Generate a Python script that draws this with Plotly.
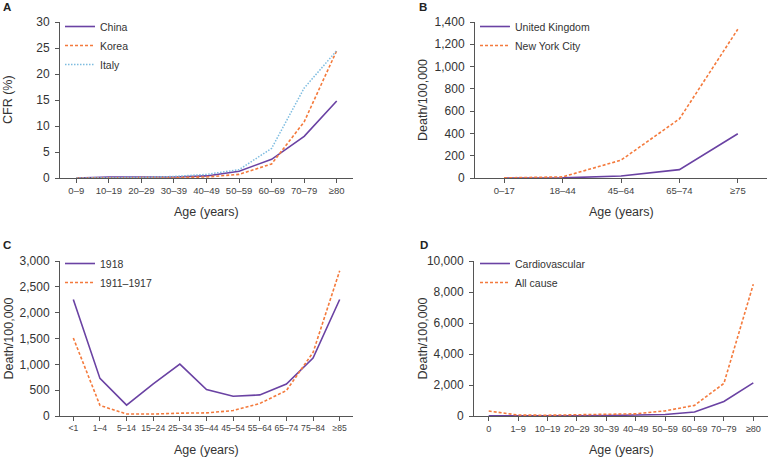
import plotly.graph_objects as go

# ---------------- data ----------------
ages_a = ["0–9", "10–19", "20–29", "30–39", "40–49", "50–59", "60–69", "70–79", "≥80"]
china = [0.0, 0.2, 0.2, 0.2, 0.4, 1.3, 3.6, 8.0, 14.8]
korea = [0.0, 0.0, 0.0, 0.1, 0.2, 0.7, 2.7, 10.8, 24.5]
italy = [0.0, 0.0, 0.1, 0.3, 0.7, 1.6, 5.7, 17.3, 24.5]

ages_b = ["0–17", "18–44", "45–64", "65–74", "≥75"]
uk = [0, 1, 18, 75, 397]
nyc = [1, 10, 160, 530, 1335]

ages_c = ["<1", "1–4", "5–14", "15–24", "25–34", "35–44", "45–54", "55–64", "65–74", "75–84", "≥85"]
y1918 = [2255, 728, 210, 620, 1005, 512, 383, 408, 620, 1120, 2255]
y1911 = [1510, 205, 38, 38, 55, 60, 105, 242, 493, 1230, 2810]

ages_d = ["0", "1–9", "10–19", "20–29", "30–39", "40–49", "50–59", "60–69", "70–79", "≥80"]
cardio = [20, 10, 10, 15, 30, 60, 100, 255, 935, 2140]
allcause = [320, 60, 50, 70, 90, 140, 330, 685, 2100, 8500]

PURPLE = "#6a42a3"
ORANGE = "#f47a3c"
BLUE = "#7dbce0"
FONT = "Liberation Sans, Arial, sans-serif"

W, H = 770, 457

fig = go.Figure()

def px_x(p):
    return p / W

def px_y(p):
    return 1 - p / H

# subplot geometry (pixels)
panels = {
    "A": dict(x0=60, x1=353, y0=22, y1=178),
    "B": dict(x0=475, x1=767, y0=22, y1=178),
    "C": dict(x0=60, x1=353, y0=261, y1=416),
    "D": dict(x0=474, x1=768, y0=261, y1=416),
}

def line(x, y, name, color, dash, xa, ya, legend, width=1.6):
    fig.add_trace(go.Scatter(
        x=x, y=y, name=name, mode="lines",
        line=dict(color=color, dash=dash, width=width),
        xaxis=xa, yaxis=ya, legend=legend, hoverinfo="skip"))

DASH = "3px,2px"
line(ages_a, china, "China", PURPLE, "solid", "x", "y", "legend")
line(ages_a, korea, "Korea", ORANGE, DASH, "x", "y", "legend")
line(ages_a, italy, "Italy", BLUE, "1.5px,1.5px", "x", "y", "legend", 1.5)
line(ages_b, uk, "United Kingdom", PURPLE, "solid", "x2", "y2", "legend2")
line(ages_b, nyc, "New York City", ORANGE, DASH, "x2", "y2", "legend2")
line(ages_c, y1918, "1918", PURPLE, "solid", "x3", "y3", "legend3")
line(ages_c, y1911, "1911–1917", ORANGE, DASH, "x3", "y3", "legend3")
line(ages_d, cardio, "Cardiovascular", PURPLE, "solid", "x4", "y4", "legend4")
line(ages_d, allcause, "All cause", ORANGE, DASH, "x4", "y4", "legend4")

axcommon = dict(showline=True, linecolor="#555", linewidth=1, ticks="outside",
                ticklen=4, tickcolor="#555", showgrid=False, zeroline=False,
                fixedrange=True, automargin=False)

ranges = {"A": (ages_a, [0, 30], 5, 9.5), "B": (ages_b, [0, 1400], 200, 9.5),
          "C": (ages_c, [0, 3000], 500, 8.6), "D": (ages_d, [0, 10000], 2000, 9.2)}
ytitles = {"A": "CFR (%)", "B": "Death/100,000", "C": "Death/100,000", "D": "Death/100,000"}

layout = {}
for i, (k, p) in enumerate(panels.items()):
    suf = "" if i == 0 else str(i + 1)
    cats, yr, dt, xfs = ranges[k]
    layout["xaxis" + suf] = dict(axcommon, domain=[px_x(p["x0"]), px_x(p["x1"])],
                                  anchor="y" + suf, type="category",
                                  range=[-0.5, len(cats) - 0.5], tickangle=0,
                                  tickfont=dict(family=FONT, size=xfs, color="#444"))
    layout["yaxis" + suf] = dict(axcommon, domain=[px_y(p["y1"]), px_y(p["y0"])],
                                  anchor="x" + suf, range=yr, dtick=dt,
                                  tickformat=",", ticklabelstandoff=3,
                                  tickfont=dict(family=FONT, size=12, color="#333"))

fig.update_layout(**layout)

ann = []
for i, (k, p) in enumerate(panels.items()):
    suf = "" if i == 0 else str(i + 1)
    ann.append(dict(text="Age (years)", xref=("x" + suf) + " domain", yref=("y" + suf) + " domain",
                    x=0.5, y=0, yshift=-34, showarrow=False, xanchor="center", yanchor="middle",
                    font=dict(family=FONT, size=12.5, color="#333")))
    ann.append(dict(text=ytitles[k], xref=("x" + suf) + " domain", yref=("y" + suf) + " domain",
                    x=0, y=0.5, xshift=-52, showarrow=False, textangle=-90,
                    xanchor="center", yanchor="middle",
                    font=dict(family=FONT, size=12.5, color="#333")))

letters = {"A": (7, 7.5), "B": (423, 7.5), "C": (7, 245), "D": (424, 245)}
for k, (lx, ly) in letters.items():
    ann.append(dict(text="<b>%s</b>" % k, xref="paper", yref="paper",
                    x=px_x(lx), y=px_y(ly), xanchor="center", yanchor="middle",
                    showarrow=False, font=dict(family=FONT, size=11.5, color="#222")))

legfont = dict(family=FONT, size=10.5, color="#333")
def leg(xp, yp):
    return dict(x=px_x(xp), y=px_y(yp), xanchor="left", yanchor="top",
                bgcolor="rgba(0,0,0,0)", font=legfont, borderwidth=0,
                tracegroupgap=0, itemwidth=30)

fig.update_layout(
    width=W, height=H, margin=dict(l=0, r=0, t=0, b=0),
    paper_bgcolor="white", plot_bgcolor="white",
    annotations=ann,
    legend=leg(60, 12), legend2=leg(475, 12), legend3=leg(60, 249), legend4=leg(475, 249),
    showlegend=True,
)

fig.write_html("out.html", config={"displayModeBar": False, "staticPlot": True},
               post_script="document.body.style.margin='0';document.body.style.overflow='hidden';")
